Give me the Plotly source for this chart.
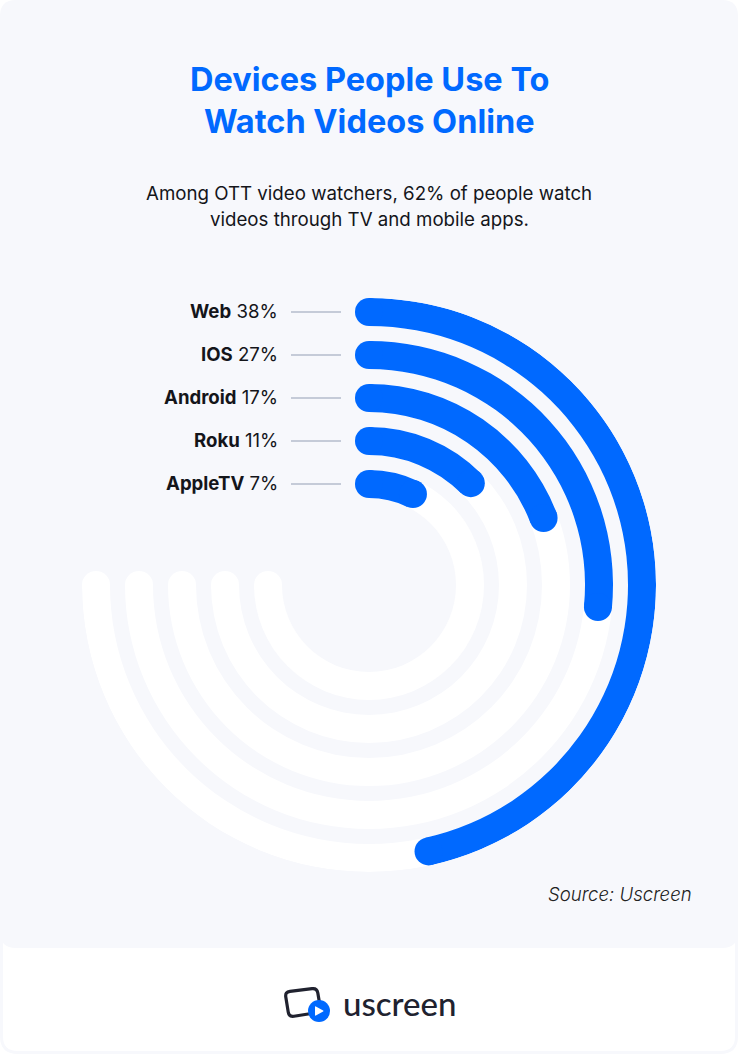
import plotly.graph_objects as go

W = 738
H = 1055

devices = ["Web", "IOS", "Android", "Roku", "AppleTV"]
shares = [38, 27, 17, 11, 7]
sweep_deg = [167.4, 95.5, 69, 45, 25.8]  # drawn arc length, not proportional to the share
ring_radius = [273, 230, 187, 144, 101]
track_deg = 270

BLUE = "#0069ff"
CARD = "#f7f8fc"
INK = "#14151a"
THICK = 28
CX, CY, R_MAX = 369, 585, 287
FONT = "Inter"


# pixel position to paper fraction
def px(x):
    return x / W


def py(y):
    return 1 - y / H


def rounded_poly(corners, r):
    # closed polygon with corners softened by quadratic curves
    d = ""
    n = len(corners)
    for i in range(n):
        x0, y0 = corners[i - 1]
        x1, y1 = corners[i]
        x2, y2 = corners[(i + 1) % n]
        l0 = ((x1 - x0) ** 2 + (y1 - y0) ** 2) ** 0.5
        l2 = ((x2 - x1) ** 2 + (y2 - y1) ** 2) ** 0.5
        ax, ay = x1 + (x0 - x1) * r / l0, y1 + (y0 - y1) * r / l0
        bx, by = x1 + (x2 - x1) * r / l2, y1 + (y2 - y1) * r / l2
        d += f"{'M' if i == 0 else 'L'} {px(ax):.5f},{py(ay):.5f} Q {px(x1):.5f},{py(y1):.5f} {px(bx):.5f},{py(by):.5f} "
    return d + "Z"


fig = go.Figure()

# white tracks
fig.add_trace(go.Barpolar(
    r=[THICK] * 5,
    base=[r - THICK / 2 for r in ring_radius],
    theta=[track_deg / 2] * 5,
    width=[track_deg] * 5,
    marker=dict(color="white", line=dict(width=0)),
    hoverinfo="skip",
))
fig.add_trace(go.Scatterpolar(
    r=ring_radius,
    theta=[track_deg] * 5,
    mode="markers",
    marker=dict(color="white", size=THICK, line=dict(width=0)),
    hoverinfo="skip",
))

# blue arcs
fig.add_trace(go.Barpolar(
    r=[THICK] * 5,
    base=[r - THICK / 2 for r in ring_radius],
    theta=[s / 2 for s in sweep_deg],
    width=sweep_deg,
    marker=dict(color=BLUE, line=dict(width=0)),
    customdata=shares,
    text=devices,
    hovertemplate="%{text} %{customdata}%<extra></extra>",
))
# round caps at both ends
fig.add_trace(go.Scatterpolar(
    r=ring_radius + ring_radius,
    theta=[0] * 5 + sweep_deg,
    mode="markers",
    marker=dict(color=BLUE, size=THICK, line=dict(width=0)),
    hoverinfo="skip",
))

shapes = [
    # footer outline, then the card over it
    dict(type="path", path=rounded_poly([(1.5, 900), (W - 1.5, 900), (W - 1.5, 1052.5), (1.5, 1052.5)], 16),
         xref="paper", yref="paper", fillcolor="white", line=dict(color=CARD, width=3), layer="below"),
    dict(type="path", path=rounded_poly([(0, 0), (W, 0), (W, 948), (0, 948)], 16),
         xref="paper", yref="paper", fillcolor=CARD, line=dict(width=0), layer="below"),
]
annotations = []

for name, share, r in zip(devices, shares, ring_radius):
    y = CY - r
    shapes.append(dict(type="line", xref="paper", yref="paper", x0=px(291), x1=px(341), y0=py(y), y1=py(y),
                       line=dict(color="#b4bccd", width=1.3), layer="below"))
    annotations.append(dict(text=f"<b>{name}</b> {share}%", x=px(280), y=py(y - 1), xref="paper", yref="paper",
                            xanchor="right", yanchor="middle", showarrow=False,
                            font=dict(family=FONT, size=18.6, color=INK)))


def centered(text, y, size, color, weight=None):
    annotations.append(dict(text=text, x=px(369), y=py(y), xref="paper", yref="paper", xanchor="center",
                            yanchor="middle", showarrow=False,
                            font=dict(family=FONT, size=size, color=color, weight=weight)))


centered("Devices People Use To", 79, 32.5, BLUE, 700)
centered("Watch Videos Online", 122, 32.5, BLUE, 700)
centered("Among OTT video watchers, 62% of people watch", 193, 18.7, INK)
centered("videos through TV and mobile apps.", 220, 18.7, INK)

annotations.append(dict(text="<i>Source: Uscreen</i>", x=px(694), y=py(894), xref="paper", yref="paper",
                        xanchor="right", yanchor="middle", showarrow=False,
                        font=dict(family=FONT, size=18.6, color="#222", weight=300)))

# logo
shapes.append(dict(type="path", path=rounded_poly([(285, 992), (317, 988), (321, 1012), (289, 1017)], 5),
                   xref="paper", yref="paper", fillcolor="rgba(0,0,0,0)", line=dict(color="#20222f", width=3.2)))
shapes.append(dict(type="circle", xref="paper", yref="paper", x0=px(308), x1=px(330), y0=py(1000), y1=py(1022),
                   fillcolor=BLUE, line=dict(width=0)))
shapes.append(dict(type="path", path=rounded_poly([(315, 1006), (324, 1011), (315, 1016)], 1),
                   xref="paper", yref="paper", fillcolor="white", line=dict(width=0)))
annotations.append(dict(text="uscreen", x=px(341), y=py(1003), xref="paper", yref="paper", xanchor="left",
                        yanchor="middle", showarrow=False,
                        font=dict(family="Lato", size=33, color="#20222f", weight=500)))

fig.update_layout(
    width=W,
    height=H,
    margin=dict(l=0, r=0, t=0, b=0),
    paper_bgcolor="white",
    showlegend=False,
    shapes=shapes,
    annotations=annotations,
    polar=dict(
        domain=dict(x=[px(CX - R_MAX), px(CX + R_MAX)], y=[py(CY + R_MAX), py(CY - R_MAX)]),
        bgcolor="rgba(0,0,0,0)",
        barmode="overlay",
        radialaxis=dict(range=[0, R_MAX], visible=False),
        angularaxis=dict(rotation=90, direction="clockwise", visible=False),
    ),
)

fig.write_html("out.html", config=dict(displayModeBar=False), post_script="document.body.style.margin='0';")
